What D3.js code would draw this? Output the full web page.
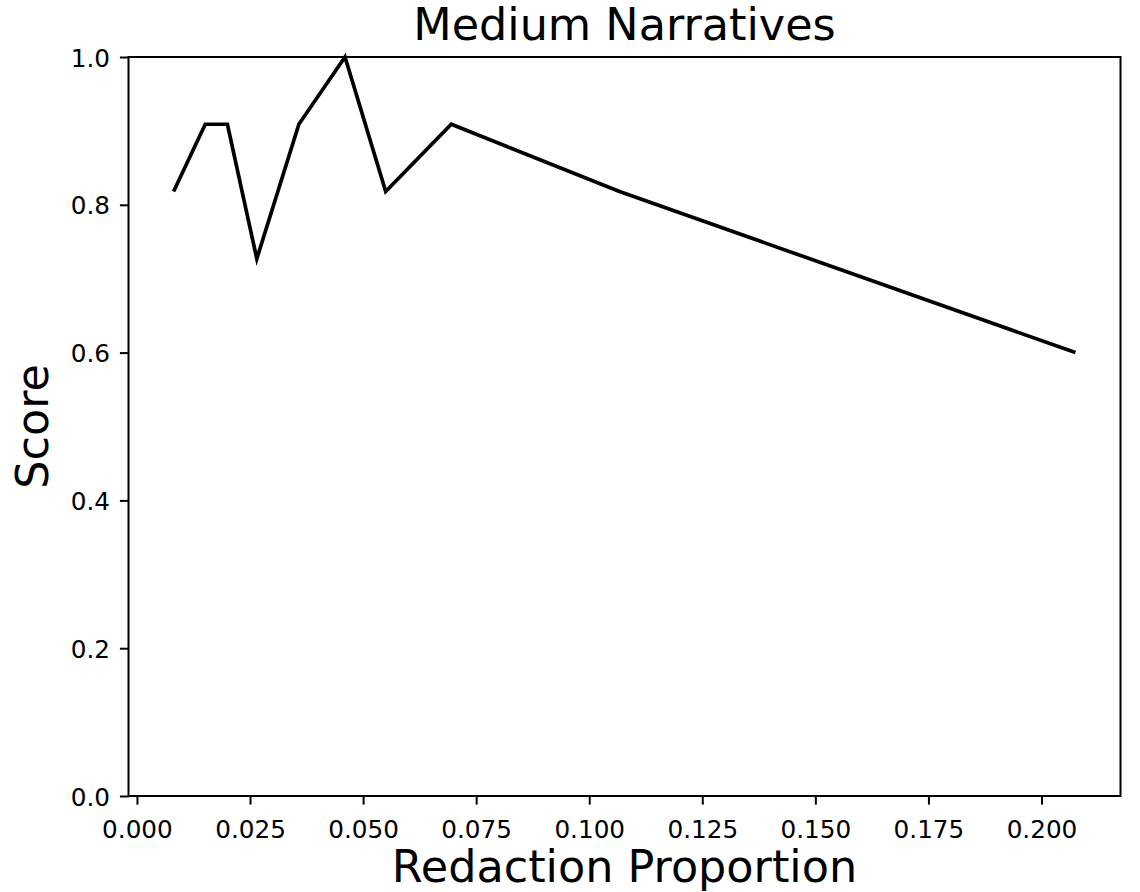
<!DOCTYPE html>
<html>
<head>
<meta charset="utf-8">
<script src="https://d3js.org/d3.v7.min.js"></script>
<style>
  body { margin: 0; background: #fff; }
  text { font-family: "DejaVu Sans", sans-serif; fill: #000; }
</style>
</head>
<body>
<svg id="chart" width="1140" height="892"></svg>
<script>
// data
const redaction = [0.0081, 0.0151, 0.0200, 0.0265, 0.0358, 0.0460, 0.0550, 0.0695, 0.1067, 0.2075]
const scores = [0.818, 0.909, 0.909, 0.727, 0.909, 1.0, 0.818, 0.909, 0.818, 0.6]
const xTicks = [0, 0.025, 0.05, 0.075, 0.1, 0.125, 0.15, 0.175, 0.2]
const yTicks = [0, 0.2, 0.4, 0.6, 0.8, 1.0]

// plot box (window.top is taken, so different names)
const plotLeft = 128.5, plotRight = 1120.5, plotTop = 57, plotBottom = 796
const tickLen = 8.6

const svg = d3.select("#chart")

// matplotlib style 5% margin on x
const xMin = d3.min(redaction), xMax = d3.max(redaction)
const pad = (xMax - xMin) * 0.05
const x = d3.scaleLinear().domain([xMin - pad, xMax + pad]).range([plotLeft, plotRight])
const y = d3.scaleLinear().domain([0, 1]).range([plotBottom, plotTop])

// x axis
const xAxis = svg.append("g")
  .attr("transform", "translate(0," + plotBottom + ")")
  .call(d3.axisBottom(x).tickValues(xTicks).tickFormat(d3.format(".3f")).tickSize(tickLen).tickPadding(0))
xAxis.select(".domain").remove()
xAxis.selectAll("line").attr("stroke", "#000").attr("stroke-width", 2)
xAxis.selectAll("text")
  .attr("font-size", 24.7)
  .attr("font-family", "DejaVu Sans")
  .attr("fill", "#000")
  .attr("y", 42).attr("dy", null)

// y axis
const yAxis = svg.append("g")
  .attr("transform", "translate(" + plotLeft + ",0)")
  .call(d3.axisLeft(y).tickValues(yTicks).tickFormat(d3.format(".1f")).tickSize(tickLen).tickPadding(0))
yAxis.select(".domain").remove()
yAxis.selectAll("line").attr("stroke", "#000").attr("stroke-width", 2)
yAxis.selectAll("text")
  .attr("font-size", 24.7)
  .attr("font-family", "DejaVu Sans")
  .attr("fill", "#000")
  .attr("x", -18.5).attr("dy", 9)

// frame
svg.append("rect")
  .attr("x", plotLeft).attr("y", plotTop)
  .attr("width", plotRight - plotLeft).attr("height", plotBottom - plotTop)
  .attr("fill", "none").attr("stroke", "#000").attr("stroke-width", 2)

// the line
const pts = redaction.map((d, i) => [d, scores[i]])
svg.append("path")
  .datum(pts)
  .attr("fill", "none")
  .attr("stroke", "#000")
  .attr("stroke-width", 3.7)
  .attr("stroke-linejoin", "miter")
  .attr("d", d3.line().x(d => x(d[0])).y(d => y(d[1])))

// labels
svg.append("text")
  .attr("x", (plotLeft + plotRight) / 2).attr("y", 40)
  .attr("text-anchor", "middle").attr("font-size", 44.5)
  .text("Medium Narratives")

svg.append("text")
  .attr("x", (plotLeft + plotRight) / 2).attr("y", 882)
  .attr("text-anchor", "middle").attr("font-size", 44.5)
  .text("Redaction Proportion")

svg.append("text")
  .attr("transform", "translate(48," + ((plotTop + plotBottom) / 2) + ") rotate(-90)")
  .attr("text-anchor", "middle").attr("font-size", 44.5)
  .text("Score")
</script>
</body>
</html>
